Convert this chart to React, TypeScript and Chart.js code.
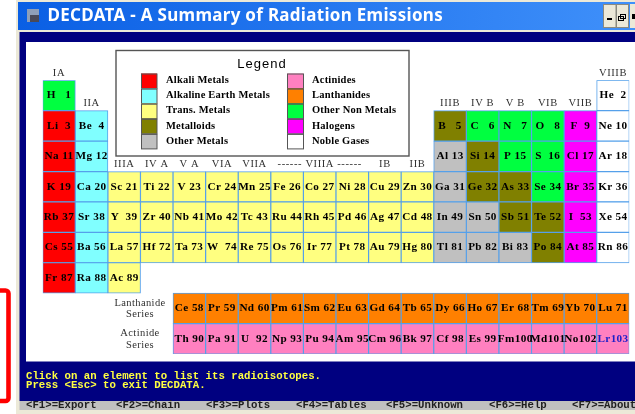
import React, { useEffect, useRef } from "react";
import { Chart, registerables } from "chart.js";

Chart.register(...registerables);

const columns = ["1","2","3","4","5","6","7","8","9","10","11","12","13","14","15","16","17","18"];
const periodRows = [1, 2, 3, 4, 5, 6, 7, 8, 9];

const _ = null;
const period1 = ["H   1",_,_,_,_,_,_,_,_,_,_,_,_,_,_,_,_,"He  2"];
const period2 = ["Li  3","Be  4",_,_,_,_,_,_,_,_,_,_,"B   5","C   6","N   7","O   8","F  9","Ne 10"];
const period3 = ["Na 11","Mg 12",_,_,_,_,_,_,_,_,_,_,"Al 13","Si 14","P 15","S  16","Cl 17","Ar 18"];
const period4 = ["K 19","Ca 20","Sc 21","Ti 22","V 23","Cr 24","Mn 25","Fe 26","Co 27","Ni 28","Cu 29","Zn 30","Ga 31","Ge 32","As 33","Se 34","Br 35","Kr 36"];
const period5 = ["Rb 37","Sr 38","Y  39","Zr 40","Nb 41","Mo 42","Tc 43","Ru 44","Rh 45","Pd 46","Ag 47","Cd 48","In 49","Sn 50","Sb 51","Te 52","I  53","Xe 54"];
const period6 = ["Cs 55","Ba 56","La 57","Hf 72","Ta 73","W  74","Re 75","Os 76","Ir 77","Pt 78","Au 79","Hg 80","Tl 81","Pb 82","Bi 83","Po 84","At 85","Rn 86"];
const period7 = ["Fr 87","Ra 88","Ac 89",_,_,_,_,_,_,_,_,_,_,_,_,_,_,_];
const lanthanideRow = [_,_,_,_,"Ce 58","Pr 59","Nd 60","Pm 61","Sm 62","Eu 63","Gd 64","Tb 65","Dy 66","Ho 67","Er 68","Tm 69","Yb 70","Lu 71"];
const actinideRow = [_,_,_,_,"Th 90","Pa 91","U  92","Np 93","Pu 94","Am 95","Cm 96","Bk 97","Cf 98","Es 99","Fm100","Md101","No102","Lr103"];
const periods = [period1, period2, period3, period4, period5, period6, period7, lanthanideRow, actinideRow];

const alkaliMetals = ["Li","Na","K","Rb","Cs","Fr"];
const alkalineEarth = ["Be","Mg","Ca","Sr","Ba","Ra"];
const transMetals = ["Sc","Ti","V","Cr","Mn","Fe","Co","Ni","Cu","Zn","Y","Zr","Nb","Mo","Tc","Ru","Rh","Pd","Ag","Cd","La","Hf","Ta","W","Re","Os","Ir","Pt","Au","Hg","Ac"];
const metalloids = ["B","Si","Ge","As","Sb","Te","Po"];
const otherMetals = ["Al","Ga","In","Sn","Tl","Pb","Bi"];
const actinides = ["Th","Pa","U","Np","Pu","Am","Cm","Bk","Cf","Es","Fm","Md","No","Lr"];
const lanthanides = ["Ce","Pr","Nd","Pm","Sm","Eu","Gd","Tb","Dy","Ho","Er","Tm","Yb","Lu"];
const otherNonMetals = ["H","C","N","O","P","S","Se"];
const halogens = ["F","Cl","Br","I","At"];
const nobleGases = ["He","Ne","Ar","Kr","Xe","Rn"];

const categories = [
  { label: "Alkali Metals", color: "#ff0000", members: alkaliMetals },
  { label: "Alkaline Earth Metals", color: "#80ffff", members: alkalineEarth },
  { label: "Trans. Metals", color: "#ffff80", members: transMetals },
  { label: "Metalloids", color: "#808000", members: metalloids },
  { label: "Other Metals", color: "#c0c0c0", members: otherMetals },
  { label: "Actinides", color: "#ff80c0", members: actinides },
  { label: "Lanthanides", color: "#ff8000", members: lanthanides },
  { label: "Other Non Metals", color: "#00ff40", members: otherNonMetals },
  { label: "Halogens", color: "#ff00ff", members: halogens },
  { label: "Noble Gases", color: "#ffffff", members: nobleGases },
];

const groupLabels = [
  ["IA", "1", 73],["IIA", "2", 103],["IIIA", "3", 164],["IV A", "4", 164],["V A", "5", 164],["VIA", "6", 164],["VIIA", "7", 164],
  ["------ VIIIA ------", "9", 164],["IB", "11", 164],["IIB", "12", 164],
  ["IIIB", "13", 103],["IV B", "14", 103],["V B", "15", 103],["VIB", "16", 103],["VIIB", "17", 103],["VIIIB", "18", 73],
] as const;

const title = "DECDATA - A Summary of Radiation Emissions";
const messageLines = ["Click on an element to list its radioisotopes.", "Press <Esc> to exit DECDATA."];
const functionKeys = ["<F1>=Export", "<F2>=Chain", "<F3>=Plots", "<F4>=Tables", "<F5>=Unknown", "<F6>=Help", "<F7>=About"];
const functionKeyX = [26, 116, 206, 296, 386, 489, 572];

const symbolOf = (s: string) => s.match(/^[A-Za-z]+/)![0];

const SERIF = '"Liberation Serif", serif';
const MONO = '"Liberation Mono", monospace';
const TITLE_FONT = 'bold 17px "Noto Sans", sans-serif';

function text(ctx: any, s: string, x: number, y: number, font: string, color: string, align = "left", spacing = "0px") {
  ctx.font = font;
  ctx.fillStyle = color;
  ctx.textAlign = align;
  ctx.textBaseline = "middle";
  ctx.letterSpacing = spacing;
  ctx.fillText(s, x, y);
  ctx.letterSpacing = "0px";
}

const chromePlugin = {
  id: "chrome",
  beforeDatasetsDraw(chart: any) {
    const ctx = chart.ctx;
    ctx.save();
    ctx.fillStyle = "#ffffff";
    ctx.fillRect(0, 0, 635, 414);
    ctx.fillStyle = "#ece9d8";
    ctx.fillRect(16, 0, 619, 414);
    const g = ctx.createLinearGradient(18, 0, 635, 0);
    g.addColorStop(0, "#0a5fe4");
    g.addColorStop(1, "#3f90fa");
    ctx.fillStyle = g;
    ctx.fillRect(18, 2, 617, 28);
    ctx.fillStyle = "#8f9fb8";
    ctx.fillRect(27, 9, 12, 13);
    ctx.fillStyle = "#4a4a58";
    ctx.fillRect(30, 15, 9, 7);
    ctx.font = TITLE_FONT;
    ctx.letterSpacing = "0px";
    const titleFit = (395.5 - ctx.measureText(title).width) / title.length;
    text(ctx, title, 47.5, 16, TITLE_FONT, "#ffffff", "left", titleFit.toFixed(3) + "px");
    ctx.fillStyle = "#ece9d8";
    ctx.fillRect(603, 4, 13, 24);
    ctx.fillRect(616.5, 4, 12, 24);
    ctx.fillRect(630, 4, 5, 24);
    ctx.strokeStyle = "#8a8a80";
    ctx.lineWidth = 1;
    ctx.strokeRect(603.5, 4.5, 12.5, 23);
    ctx.strokeRect(616.5, 4.5, 12, 23);
    ctx.fillStyle = "#000000";
    ctx.fillRect(607, 18, 5, 2);
    ctx.strokeStyle = "#000000";
    ctx.strokeRect(620.5, 14.5, 5, 4);
    ctx.strokeRect(618.5, 16.5, 5, 4);
    ctx.fillRect(632, 14, 3, 5);
    ctx.fillStyle = "#000080";
    ctx.fillRect(19.5, 32, 616, 369);
    ctx.fillStyle = "#ffffff";
    ctx.fillRect(26, 42, 609, 319.5);
    ctx.fillStyle = "#c0c0c0";
    ctx.fillRect(19.5, 401, 616, 9);
    functionKeys.forEach((k, i) => text(ctx, k, functionKeyX[i], 405.5, "bold 10.7px " + MONO, "#202020"));
    messageLines.forEach((l, i) => text(ctx, l, 26, 376 + i * 9.7, "bold 10.7px " + MONO, "#ffff40"));
    ctx.strokeStyle = "#ff0000";
    ctx.lineWidth = 4.6;
    ctx.beginPath();
    ctx.roundRect(-10, 290.5, 18.5, 110.5, 3);
    ctx.stroke();
    ctx.fillStyle = "#ffffff";
    ctx.fillRect(116, 50, 293, 106);
    ctx.strokeStyle = "#555555";
    ctx.lineWidth = 1.4;
    ctx.strokeRect(116, 50.5, 293, 105.5);
    text(ctx, "Legend", 262, 64, '13px "Liberation Sans", sans-serif', "#000000", "center", "1px");
    chart.data.datasets.forEach((d: any, i: number) => {
      const c = i < 5 ? 0 : 1;
      const r = i % 5;
      const x = c === 0 ? 141 : 287;
      const y = 73.5 + r * 15.1;
      ctx.fillStyle = d.backgroundColor;
      ctx.fillRect(x, y, c === 0 ? 16 : 16.5, 15);
      ctx.strokeStyle = "#555555";
      ctx.lineWidth = 1;
      ctx.strokeRect(x + 0.5, y + 0.5, c === 0 ? 15.5 : 16, 14.5);
      text(ctx, d.label, c === 0 ? 166 : 312, y + 7, "bold 10.5px " + SERIF, "#000000", "left", "0.2px");
    });
    const xs = chart.scales.x;
    groupLabels.forEach(([label, col, y]) => {
      const cx = xs.getPixelForValue(columns.indexOf(col));
      text(ctx, label, cx, y, "10.5px " + SERIF, "#303030", "center", "0.6px");
    });
    text(ctx, "Lanthanide", 140, 303, "10.5px " + SERIF, "#303030", "center", "0.4px");
    text(ctx, "Series", 140, 314.5, "10.5px " + SERIF, "#303030", "center", "0.4px");
    text(ctx, "Actinide", 140, 333.5, "10.5px " + SERIF, "#303030", "center", "0.4px");
    text(ctx, "Series", 140, 345, "10.5px " + SERIF, "#303030", "center", "0.4px");
    ctx.restore();
  },
  afterDatasetsDraw(chart: any) {
    const ctx = chart.ctx;
    const xs = chart.scales.x;
    const ys = chart.scales.y;
    ctx.save();
    periods.forEach((row, r) => {
      row.forEach((label, c) => {
        if (!label) return;
        const cx = xs.getPixelForValue(c);
        const cy = ys.getPixelForValue(r + 0.5);
        const color = label === "Lr103" ? "#2020c8" : "#000000";
        text(ctx, label, cx, cy, "bold 11.2px " + SERIF, color, "center", "0.4px");
      });
    });
    ctx.restore();
  },
};

export default function App() {
  const ref = useRef<HTMLCanvasElement>(null);
  useEffect(() => {
    const cells = (members: string[]) => {
      const out: any[] = [];
      periods.forEach((row, r) =>
        row.forEach((label, c) => {
          if (label && members.includes(symbolOf(label))) out.push({ x: columns[c], y: [r, periodRows[r]] });
        })
      );
      return out;
    };
    const chart = new Chart(ref.current!, {
      type: "bar",
      data: {
        labels: columns,
        datasets: categories.map((cat) => ({
          label: cat.label,
          data: cells(cat.members),
          backgroundColor: cat.color,
          borderColor: "#55a0ea",
          borderWidth: 1,
          borderSkipped: false,
          inflateAmount: 0.4,
          grouped: false,
          barPercentage: 1,
          categoryPercentage: 1,
        })),
      },
      options: {
        responsive: false,
        animation: false,
        events: [],
        layout: { padding: { left: 42.7, top: 80.3, right: 5.7, bottom: 60 } },
        plugins: { legend: { display: false }, tooltip: { enabled: false } },
        scales: {
          x: { type: "category", display: false, offset: true },
          y: { type: "linear", display: false, reverse: true, min: 0, max: 9 },
        },
      },
      plugins: [chromePlugin],
    } as any);
    return () => chart.destroy();
  }, []);
  return <canvas ref={ref} width={635} height={414} style={{ position: "fixed", left: 0, top: 0, display: "block" }} />;
}
